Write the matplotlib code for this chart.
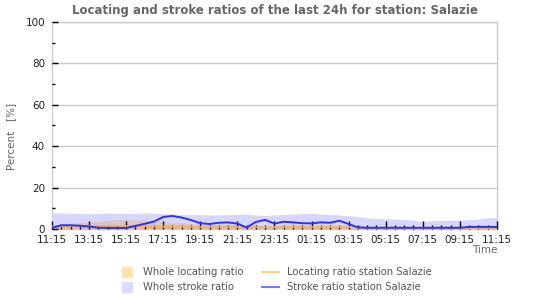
import matplotlib
matplotlib.use("Agg")
import matplotlib.pyplot as plt
import numpy as np
from matplotlib.patches import Rectangle
from matplotlib.lines import Line2D

# Hours after 11:15 (30-minute resolution)
hours = [i * 0.5 for i in range(49)]

whole_stroke = [7.8, 7.8, 7.6, 7.5, 7.4, 7.5, 7.7, 7.6, 7.6, 7.5,
                7.8, 7.6, 7.4, 7.2, 7.0, 7.0, 6.9, 6.8, 6.8, 7.0,
                7.0, 7.2, 6.8, 6.5, 6.8, 7.0, 7.2, 7.4, 7.6, 7.2,
                7.0, 6.8, 6.4, 6.0, 5.4, 5.0, 5.0, 4.8, 4.6, 4.3,
                3.6, 4.0, 4.2, 4.3, 4.2, 4.5, 4.8, 5.4, 5.5]

whole_locating = [2.0, 2.2, 2.8, 3.2, 3.4, 3.6, 4.2, 4.6, 4.6, 4.4,
                  4.2, 3.8, 3.5, 3.2, 3.0, 2.6, 2.3, 2.0, 2.0, 2.2,
                  2.2, 2.0, 1.6, 1.5, 1.6, 1.8, 1.8, 2.0, 2.0, 1.8,
                  1.8, 1.7, 1.5, 1.0, 0.6, 0.5, 0.5, 0.5, 0.5, 0.5,
                  0.4, 0.5, 0.5, 0.5, 0.5, 0.6, 0.6, 0.6, 0.6]

station_stroke = [0.6, 1.8, 1.8, 1.6, 1.2, 0.6, 0.5, 0.5, 0.5, 1.5,
                  2.5, 3.6, 5.8, 6.3, 5.5, 4.3, 2.8, 2.4, 3.0, 3.2,
                  2.6, 0.7, 3.4, 4.4, 2.6, 3.5, 3.2, 2.8, 2.7, 3.2,
                  3.0, 4.0, 2.4, 0.8, 0.6, 0.6, 0.6, 0.6, 0.6, 0.6,
                  0.6, 0.6, 0.6, 0.6, 0.6, 1.0, 1.0, 1.0, 1.0]

station_locating = [1.2, 1.2, 1.3, 1.4, 1.4, 1.5, 1.5, 1.5, 1.4, 1.4,
                    1.3, 1.2, 1.2, 1.1, 1.1, 1.0, 1.0, 1.0, 1.0, 1.0,
                    1.0, 0.9, 0.9, 0.9, 0.9, 1.0, 1.0, 1.0, 1.0, 1.0,
                    1.0, 1.0, 0.9, 0.6, 0.4, 0.3, 0.3, 0.3, 0.3, 0.3,
                    0.3, 0.3, 0.3, 0.3, 0.3, 0.3, 0.3, 0.3, 0.3]

xtick_labels = ["11:15", "13:15", "15:15", "17:15", "19:15", "21:15", "23:15",
                "01:15", "03:15", "05:15", "07:15", "09:15", "11:15"]
yticks = [0, 20, 40, 60, 80, 100]

fig = plt.figure(figsize=(5.5, 3.0), dpi=100)
ax = fig.add_axes([0.0945, 0.2367, 0.809, 0.69])

ax.fill_between(hours, 0, whole_stroke, color="#D6D6FF", lw=0, zorder=1)
ax.fill_between(hours, 0, whole_locating, color="#E2B890", alpha=0.55, lw=0, zorder=1.1)
ax.fill_between(hours, 0, station_locating, color="#E8B07A", alpha=0.65, lw=0, zorder=1.2)
ax.plot(hours, station_locating, color="#F0B060", lw=1.2, zorder=3)
ax.plot(hours, station_stroke, color="#3030F0", lw=1.4, zorder=4)

ax.set_xlim(0, 24)
ax.set_ylim(0, 100)
ax.set_xticks(np.arange(0, 25, 2))
ax.set_xticklabels(xtick_labels)
ax.set_xticks(np.arange(0, 24.01, 0.5), minor=True)
ax.set_yticks(yticks)
ax.set_yticks(np.arange(10, 100, 20), minor=True)
ax.tick_params(axis="x", which="major", direction="in", length=6, width=1,
               color="black", labelsize=7.5, labelcolor="#222222", pad=4)
ax.tick_params(axis="x", which="minor", direction="in", length=3, width=1, color="black")
ax.tick_params(axis="y", which="major", direction="in", length=4, width=1,
               color="black", labelsize=7.5, labelcolor="#222222", pad=5)
ax.tick_params(axis="y", which="minor", direction="in", length=2, width=1, color="black")
ax.grid(axis="y", which="major", color="#cccccc", lw=1, zorder=0.5)
for s in ax.spines.values():
    s.set_color("#cccccc")
    s.set_linewidth(1)
    s.set_zorder(0.5)

fig.text(0.5, 0.965, "Locating and stroke ratios of the last 24h for station: Salazie",
         ha="center", va="center", fontsize=8.5, fontweight="bold", color="#666666")
fig.text(0.02, 0.545, "Percent   [%]", rotation=90, ha="center", va="center",
         fontsize=7.5, color="#666666")
fig.text(0.905, 0.167, "Time", ha="right", va="center", fontsize=7.5, color="#666666")

# Legend
fig.patches.append(Rectangle((122/550, 1 - 277/300), 10/550, 10/300,
                             transform=fig.transFigure, color="#FFE3B0"))
fig.patches.append(Rectangle((122/550, 1 - 292/300), 10/550, 10/300,
                             transform=fig.transFigure, color="#DCDCFF"))
fig.lines.append(Line2D([262/550, 279/550], [1 - 272/300, 1 - 272/300],
                        transform=fig.transFigure, color="#FFD080", lw=1.5))
fig.lines.append(Line2D([262/550, 279/550], [1 - 287/300, 1 - 287/300],
                        transform=fig.transFigure, color="#7777FF", lw=1.5))
fig.text(143/550, 1 - 272/300, "Whole locating ratio", va="center", fontsize=7.2, color="#555555")
fig.text(143/550, 1 - 287/300, "Whole stroke ratio", va="center", fontsize=7.2, color="#555555")
fig.text(287/550, 1 - 272/300, "Locating ratio station Salazie", va="center", fontsize=7.2, color="#555555")
fig.text(287/550, 1 - 287/300, "Stroke ratio station Salazie", va="center", fontsize=7.2, color="#555555")

fig.savefig("out.png", dpi=100)
